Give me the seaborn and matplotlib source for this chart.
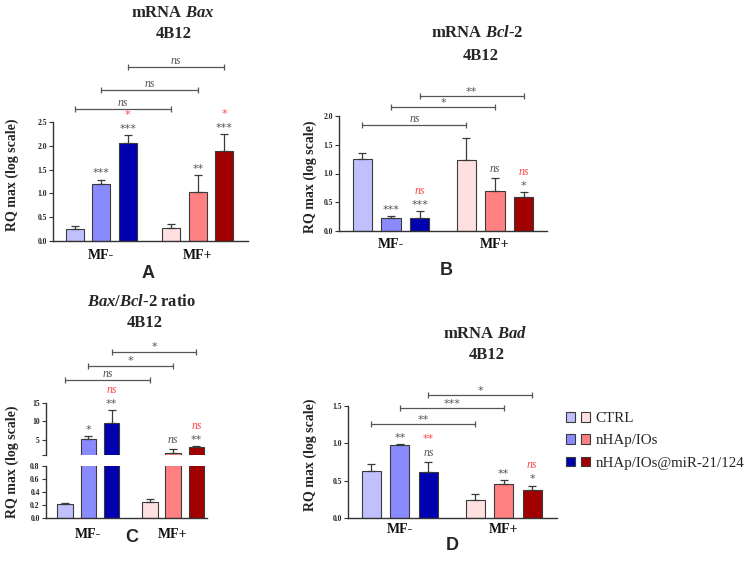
import numpy as np
import pandas as pd
import matplotlib
matplotlib.use("Agg")
import matplotlib.pyplot as plt
import matplotlib.transforms as mtransforms
from matplotlib.patches import Patch
from matplotlib.legend_handler import HandlerTuple
import seaborn as sns

# ---------------- data ----------------
groups = ["MF-", "MF+"]
treatments = ["CTRL", "nHAp/IOs", "nHAp/IOs@miR-21/124"]

# A: mRNA Bax
bax_mfm = [0.26, 1.20, 2.06]
bax_mfm_err = [0.06, 0.09, 0.16]
bax_mfp = [0.28, 1.03, 1.89]
bax_mfp_err = [0.07, 0.36, 0.36]
bax_sig_gray = ["", "***", "***", "", "**", "***"]
bax_sig_red = ["", "", "*", "", "", "*"]
bax_brackets = ["ns", "ns", "ns"]

# B: mRNA Bcl-2
bcl2_mfm = [1.25, 0.22, 0.23]
bcl2_mfm_err = [0.10, 0.035, 0.11]
bcl2_mfp = [1.24, 0.70, 0.60]
bcl2_mfp_err = [0.37, 0.23, 0.07]
bcl2_sig_gray = ["", "***", "***", "", "ns", "*"]
bcl2_sig_red = ["", "", "ns", "", "", "ns"]
bcl2_brackets = ["ns", "*", "**"]

# C: Bax/Bcl-2 ratio
ratio_mfm = [0.215, 5.2, 9.6]
ratio_mfm_err = [0.02, 0.8, 3.5]
ratio_mfp = [0.25, 1.3, 3.0]
ratio_mfp_err = [0.05, 1.2, 0.3]
ratio_sig_gray = ["", "*", "**", "", "ns", "**"]
ratio_sig_red = ["", "", "ns", "", "", "ns"]
ratio_brackets = ["ns", "*", "*"]

# D: mRNA Bad
bad_mfm = [0.635, 0.975, 0.61]
bad_mfm_err = [0.085, 0.015, 0.145]
bad_mfp = [0.245, 0.457, 0.378]
bad_mfp_err = [0.07, 0.05, 0.057]
bad_sig_gray = ["", "**", "ns", "", "**", "*"]
bad_sig_red = ["", "", "**", "", "", "ns"]
bad_brackets = ["**", "***", "*"]

blues = ["#c0c0ff", "#8a8aff", "#0000b0"]
reds = ["#ffe0e0", "#ff8080", "#a00000"]

# ---------------- style ----------------
sns.set_theme(style="ticks")
plt.rcParams["font.family"] = ["Liberation Serif", "DejaVu Serif"]
plt.rcParams["mathtext.fontset"] = "custom"
plt.rcParams["mathtext.rm"] = "Liberation Serif:bold"
plt.rcParams["mathtext.it"] = "Liberation Serif:italic:bold"
plt.rcParams["mathtext.bf"] = "Liberation Serif:bold"

W, H = 753, 563
fig = plt.figure(figsize=(W / 100, H / 100), dpi=100)
fig.patch.set_facecolor("white")

AX_COL = "#333333"
EDGE = "#3a3a3a"
GRAY = "#555555"
RED = "#ff4a4a"


def add_ax(x0, y0, x1, y1):
    return fig.add_axes([x0 / W, 1 - y1 / H, (x1 - x0) / W, (y1 - y0) / H])


def ftxt(x, y, s, **kw):
    fig.text(x / W, 1 - y / H, s, **kw)


def style_ax(ax, xpad):
    for side in ["top", "right"]:
        ax.spines[side].set_visible(False)
    for side in ["left", "bottom"]:
        ax.spines[side].set_color(AX_COL)
        ax.spines[side].set_linewidth(1.0)
    ax.set_facecolor("white")
    ax.tick_params(axis="y", length=3, width=0.8, color=AX_COL, labelsize=5.5,
                   pad=1.5, labelcolor="#222")
    ax.tick_params(axis="x", length=0, labelsize=10, pad=xpad, labelcolor="#111")
    for lab in ax.get_yticklabels():
        lab.set_fontweight("bold")
    for lab in ax.get_xticklabels():
        lab.set_fontweight("bold")
    ax.set_xlabel("")
    ax.set_ylabel("")


def draw_bars(ax, mfm, mfm_err, mfp, mfp_err):
    centers = []
    for grp, vals, pal in [("MF-", mfm, blues), ("MF+", mfp, reds)]:
        df = pd.DataFrame({"group": grp, "treatment": treatments, "value": vals})
        n0 = len(ax.patches)
        sns.barplot(data=df, x="group", y="value", hue="treatment", order=groups,
                    hue_order=treatments, palette=pal, width=0.825, gap=0.33,
                    edgecolor=EDGE, linewidth=0.8, errorbar=None, legend=False,
                    saturation=1, ax=ax)
        new = sorted(ax.patches[n0:], key=lambda p: p.get_x())
        centers += [p.get_x() + p.get_width() / 2 for p in new]
    values = np.array(list(mfm) + list(mfp))
    errs = np.array(list(mfm_err) + list(mfp_err))
    ax.errorbar(centers, values, yerr=[np.zeros_like(errs), errs], fmt="none",
                ecolor=EDGE, elinewidth=0.9, capsize=3.2, capthick=0.9, zorder=1)
    return np.array(centers), values + errs


def label_kw(s, color):
    if s == "ns":
        return dict(fontsize=8.5, fontstyle="italic", family=["Liberation Serif"],
                    color=color)
    return dict(fontsize=8, family=["DejaVu Sans"], color=color)


def annotate_bars(ax, centers, tops, gray, red):
    for x, t, g, r in zip(centers, tops, gray, red):
        off = 0
        if g:
            off = 6 if g == "ns" else 4.5
            ax.annotate(g, (x, t), xytext=(0, off), textcoords="offset points",
                        ha="center", va="center", annotation_clip=False,
                        **label_kw(g, GRAY))
        if r:
            off2 = off + 10 if g else 5
            ax.annotate(r, (x, t), xytext=(0, off2), textcoords="offset points",
                        ha="center", va="center", annotation_clip=False,
                        **label_kw(r, RED))


def draw_brackets(ax, centers, labels, yfracs):
    trans = mtransforms.blended_transform_factory(ax.transData, ax.transAxes)
    for k, (lab, yf) in enumerate(zip(labels, yfracs)):
        x1, x2 = centers[k], centers[k + 3]
        ax.plot([x1, x2], [yf, yf], transform=trans, color=GRAY, lw=0.9,
                clip_on=False, marker="|", markersize=5, mew=0.9)
        off = 4.5 if lab == "ns" else 3
        ax.annotate(lab, ((x1 + x2) / 2, yf), xycoords=trans, xytext=(0, off),
                    textcoords="offset points", ha="center", va="center",
                    annotation_clip=False, **label_kw(lab, GRAY))


YLAB = "RQ max (log scale)"
TFS = 12
YFS = 10

# ---------------- Panel A ----------------
axA = add_ax(53, 122, 248, 241)
cA, tA = draw_bars(axA, bax_mfm, bax_mfm_err, bax_mfp, bax_mfp_err)
axA.set_ylim(0, 2.5)
axA.set_yticks(np.arange(0, 2.51, 0.5))
axA.set_yticklabels([f"{v:.1f}" for v in np.arange(0, 2.51, 0.5)])
axA.set_xlim(-0.5, 1.52)
style_ax(axA, 5.5)
annotate_bars(axA, cA, tA, bax_sig_gray, bax_sig_red)
draw_brackets(axA, cA, bax_brackets, [1.11, 1.27, 1.46])
ftxt(173, 13, r"mRNA $\mathit{Bax}$", ha="center", va="center", fontsize=TFS,
     fontweight="bold")
ftxt(174, 34, "4B12", ha="center", va="center", fontsize=TFS, fontweight="bold")
ftxt(12, 175, YLAB, rotation=90, ha="center", va="center", fontsize=YFS,
     fontweight="bold")
ftxt(148, 273, "A", ha="center", va="center", fontsize=13, fontweight="bold",
     family=["Liberation Sans", "DejaVu Sans"])

# ---------------- Panel B ----------------
axB = add_ax(339, 116, 547, 231)
cB, tB = draw_bars(axB, bcl2_mfm, bcl2_mfm_err, bcl2_mfp, bcl2_mfp_err)
axB.set_ylim(0, 2.0)
axB.set_yticks(np.arange(0, 2.01, 0.5))
axB.set_yticklabels([f"{v:.1f}" for v in np.arange(0, 2.01, 0.5)])
axB.set_xlim(-0.5, 1.5)
style_ax(axB, 4.7)
annotate_bars(axB, cB, tB, bcl2_sig_gray, bcl2_sig_red)
draw_brackets(axB, cB, bcl2_brackets, [0.92, 1.08, 1.175])
ftxt(477, 33, r"mRNA $\mathit{Bcl}$-$\mathit{2}$", ha="center", va="center",
     fontsize=TFS, fontweight="bold")
ftxt(481, 56, "4B12", ha="center", va="center", fontsize=TFS, fontweight="bold")
ftxt(310, 177, YLAB, rotation=90, ha="center", va="center", fontsize=YFS,
     fontweight="bold")
ftxt(446, 271, "B", ha="center", va="center", fontsize=13, fontweight="bold",
     family=["Liberation Sans", "DejaVu Sans"])

# ---------------- Panel C (broken axis) ----------------
axC1 = add_ax(46, 403, 207, 455)
axC2 = add_ax(46, 466, 207, 518)
cC, tC = draw_bars(axC1, ratio_mfm, ratio_mfm_err, ratio_mfp, ratio_mfp_err)
draw_bars(axC2, ratio_mfm, ratio_mfm_err, ratio_mfp, ratio_mfp_err)
axC1.set_ylim(0.8, 15)
axC1.set_yticks([0.8, 5, 10, 15])
axC1.set_yticklabels(["", "5", "10", "15"])
axC2.set_ylim(0, 0.8)
axC2.set_yticks(np.arange(0, 0.81, 0.2))
axC2.set_yticklabels([f"{v:.1f}" for v in np.arange(0, 0.81, 0.2)])
for ax in (axC1, axC2):
    ax.set_xlim(-0.5, 1.4)
style_ax(axC1, 4)
style_ax(axC2, 6.9)
axC1.spines["bottom"].set_visible(False)
axC1.set_xticks([])
annotate_bars(axC1, cC, tC, ratio_sig_gray, ratio_sig_red)
draw_brackets(axC1, cC, ratio_brackets, [1.44, 1.72, 1.99])
ftxt(142, 302, r"$\mathit{Bax/Bcl}$-$\mathit{2}$ ratio", ha="center", va="center",
     fontsize=TFS, fontweight="bold")
ftxt(145, 323, "4B12", ha="center", va="center", fontsize=TFS, fontweight="bold")
ftxt(12, 462, YLAB, rotation=90, ha="center", va="center", fontsize=YFS,
     fontweight="bold")
ftxt(132, 538, "C", ha="center", va="center", fontsize=13, fontweight="bold",
     family=["Liberation Sans", "DejaVu Sans"])

# ---------------- Panel D ----------------
axD = add_ax(348, 406, 557, 518)
cD, tD = draw_bars(axD, bad_mfm, bad_mfm_err, bad_mfp, bad_mfp_err)
axD.set_ylim(0, 1.5)
axD.set_yticks(np.arange(0, 1.51, 0.5))
axD.set_yticklabels([f"{v:.1f}" for v in np.arange(0, 1.51, 0.5)])
axD.set_xlim(-0.5, 1.515)
style_ax(axD, 3.8)
annotate_bars(axD, cD, tD, bad_sig_gray, bad_sig_red)
draw_brackets(axD, cD, bad_brackets, [0.84, 0.98, 1.10])
ftxt(485, 334, r"mRNA $\mathit{Bad}$", ha="center", va="center", fontsize=TFS,
     fontweight="bold")
ftxt(487, 355, "4B12", ha="center", va="center", fontsize=TFS, fontweight="bold")
ftxt(310, 455, YLAB, rotation=90, ha="center", va="center", fontsize=YFS,
     fontweight="bold")
ftxt(452, 545, "D", ha="center", va="center", fontsize=13, fontweight="bold",
     family=["Liberation Sans", "DejaVu Sans"])

# ---------------- Legend ----------------
handles = [(Patch(facecolor=b, edgecolor=EDGE, linewidth=0.8),
            Patch(facecolor=r, edgecolor=EDGE, linewidth=0.8))
           for b, r in zip(blues, reds)]
fig.legend(handles=handles, labels=treatments,
           handler_map={tuple: HandlerTuple(ndivide=None, pad=0.45)},
           loc="upper left", bbox_to_anchor=(566 / W, 1 - 412 / H),
           frameon=False, fontsize=10.8, handlelength=1.6, handleheight=0.6,
           handletextpad=0.35, labelspacing=0.62, borderpad=0, borderaxespad=0)

fig.savefig("out.png", dpi=100, facecolor="white")
